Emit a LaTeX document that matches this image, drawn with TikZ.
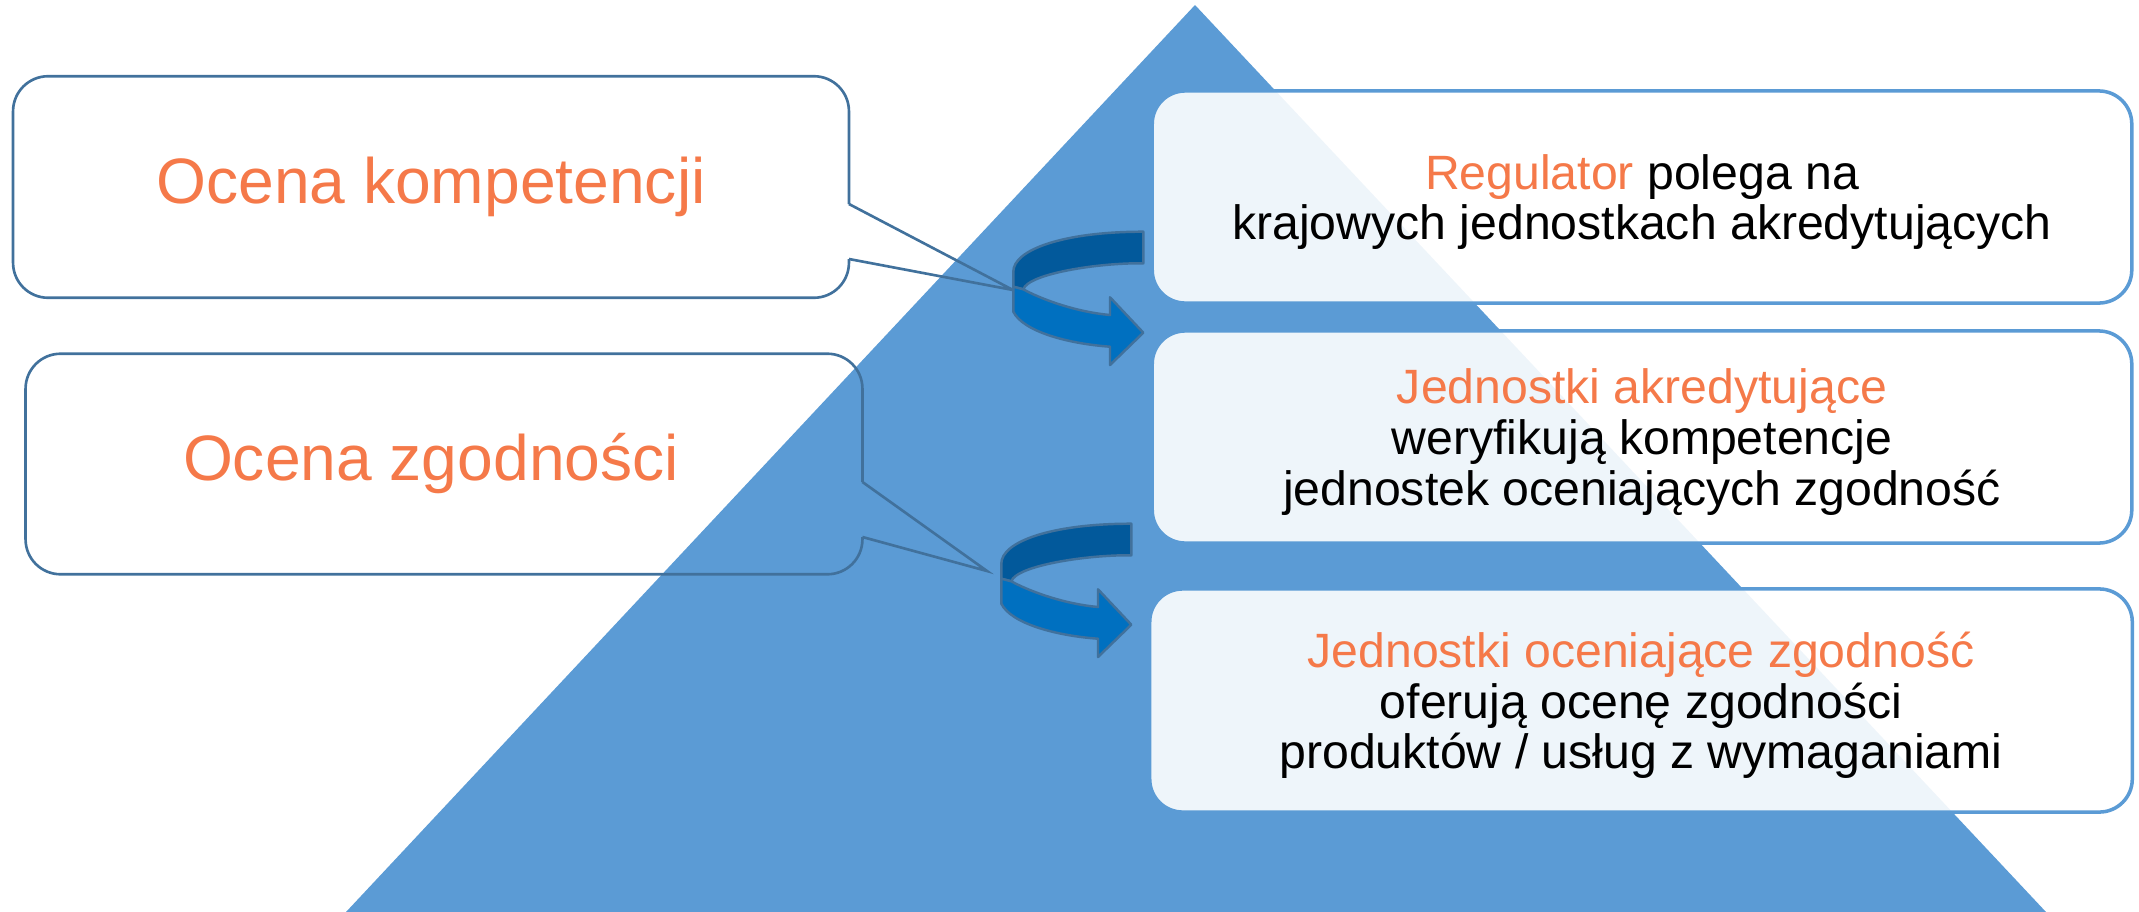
\documentclass[tikz,border=0pt]{standalone}
\usepackage{fontspec}
\setmainfont{Liberation Sans}
\usepackage{xcolor}
\usepackage{tikz}
\usetikzlibrary{calc}

\definecolor{piramida}{HTML}{5B9BD5}
\definecolor{ramka}{HTML}{41719C}
\definecolor{pomar}{RGB}{245,121,73}
\definecolor{obrotC}{HTML}{02599B}
\definecolor{obrotJ}{HTML}{0070C0}

\tikzset{
	opis/.style={draw=piramida, line width=1pt, fill=white, fill opacity=0.9, rounded corners=0.33cm, inner sep=0pt},
	opistekst/.style={align=center, inner sep=0pt, text opacity=1, yshift=-0.05cm, font=\fontsize{13.7}{14.4}\selectfont},
	dymek/.style={inner sep=0pt, text=pomar, font=\fontsize{18.25}{21}\selectfont},
	dymekline/.style={draw=ramka, line width=0.75pt},
	obrot/.pic={
		\filldraw[fill=obrotC, draw=ramka, line width=0.7pt, line join=round] (0,0) .. controls (0,-22) and (50,-40) .. (130,-40) -- (130,-8.4) .. controls (85,-9) and (15,2) .. (10,17.6) -- (0,15) -- cycle;
		\filldraw[fill=obrotJ, draw=ramka, line width=0.7pt, line join=round] (0,15) -- (10,17.6) .. controls (25,26) and (60,40) .. (96.7,43.3) -- (96.7,25.6) -- (130,61) -- (96.7,93.3) -- (96.7,75) .. controls (55,72) and (10,60) .. (0,40) -- cycle;
	}
}

\begin{document}
\begin{tikzpicture}[x=0.01cm, y=-0.01cm]
	\useasboundingbox (0,0) rectangle (2139,912);
	\fill[piramida] (346,912) -- (1195,5) -- (2046,912) -- cycle;
	
	\node[dymek, minimum width=8.34cm, minimum height=2.2cm] (kompetencje) at (431,187) {Ocena kompetencji};
	\node[dymek, minimum width=8.35cm, minimum height=2.19cm] (zgodnosc) at (444,464) {\hspace*{-0.26cm}Ocena zgodności};
	\coordinate (grotA) at (1013,290);
	\coordinate (grotB) at (987,571);
	
	\draw[dymekline, rounded corners=0.35cm] (kompetencje.east |- 0,259) |- (kompetencje.south west) |- (kompetencje.north east) -- (kompetencje.east |- 0,204);
	\draw[dymekline] (kompetencje.east |- 0,204) -- (grotA) -- (kompetencje.east |- 0,259);
	\draw[dymekline, rounded corners=0.35cm] (zgodnosc.east |- 0,537) |- (zgodnosc.south west) |- (zgodnosc.north east) -- (zgodnosc.east |- 0,482);
	\draw[dymekline] (zgodnosc.east |- 0,482) -- (grotB) -- (zgodnosc.east |- 0,537);
	
	\node[opis, minimum width=9.79cm, minimum height=2.12cm, label={[opistekst]center:{{\color{pomar}Regulator} polega na\\krajowych jednostkach akredytujących}}] (regulator) at (1642,197) {};
	\node[opis, minimum width=9.79cm, minimum height=2.12cm, label={[opistekst]center:{{\color{pomar}Jednostki akredytujące}\\weryfikują kompetencje\\jednostek oceniających zgodność}}] (akredytacja) at (1642,437) {};
	\node[opis, minimum width=9.82cm, minimum height=2.23cm, label={[opistekst]center:{{\color{pomar}Jednostki oceniające zgodność}\\oferują ocenę zgodności\\produktów / usług z wymaganiami}}] (oceniajace) at (1641,700.5) {};
	
	\pic at (1013.3,271.7) {obrot};
	\pic at (1001.3,563.7) {obrot};
\end{tikzpicture}
\end{document}
